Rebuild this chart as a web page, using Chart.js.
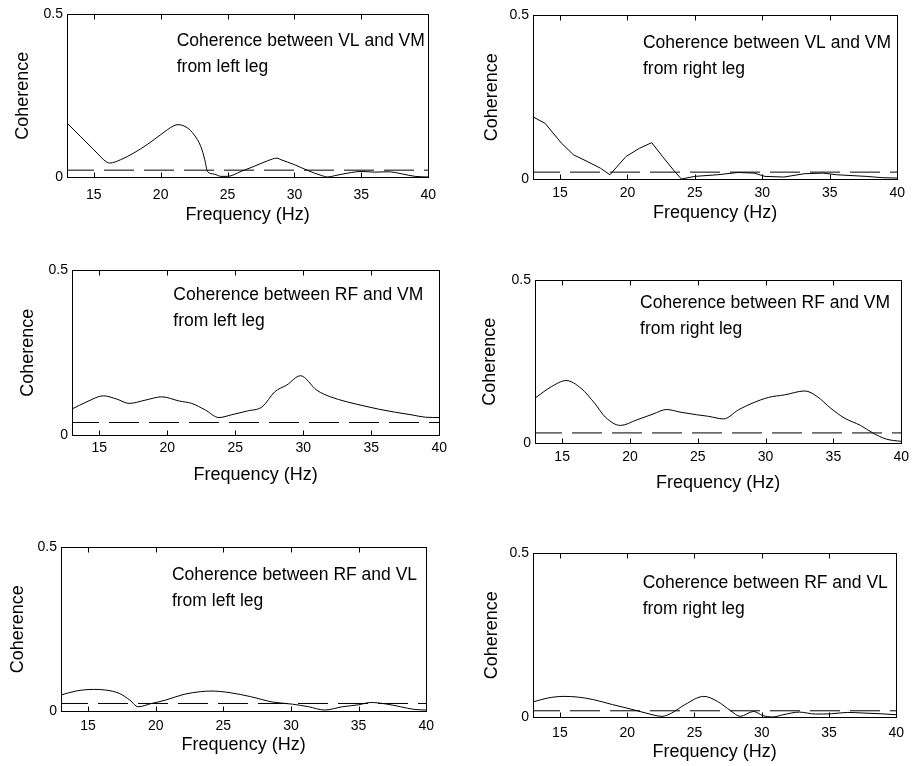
<!DOCTYPE html>
<html>
<head>
<meta charset="utf-8">
<title>Coherence between quadriceps muscles</title>
<script src="https://cdn.jsdelivr.net/npm/chart.js@4/dist/chart.umd.min.js"></script>
<style>
  html, body { margin: 0; padding: 0; background: #fff; overflow: hidden; }
  #stage { position: relative; width: 913px; height: 766px; overflow: hidden; }
  #stage canvas { position: absolute; }
</style>
</head>
<body>
<div id="stage"></div>
<script>
// ---- tick labels shared by every panel ----
const freqTicks = [15, 20, 25, 30, 35, 40];
const cohTicks = [0, 0.5];

// ---- VL vs VM, left leg ----
const vlvmLeftFreq = [13, 14, 15, 16, 16.2, 17, 18, 19, 20, 21, 21.3, 22, 22.5, 23, 23.3, 23.5, 24, 24.5, 25, 26, 27, 28, 28.7, 29, 30, 31, 32, 32.5, 33, 34, 35, 36, 37, 38, 39, 40];
const vlvmLeftCoh  = [0.166, 0.125, 0.084, 0.045, 0.043, 0.053, 0.074, 0.100, 0.130, 0.158, 0.161, 0.151, 0.130, 0.094, 0.053, 0.017, 0.009, 0.002, 0.002, 0.017, 0.033, 0.050, 0.058, 0.053, 0.038, 0.020, 0.005, 0.000, 0.004, 0.012, 0.017, 0.015, 0.016, 0.010, 0.002, 0.000];
const vlvmLeftSig  = 0.021;

// ---- VL vs VM, right leg ----
const vlvmRightFreq = [13, 13.9, 15.1, 16.0, 17, 18, 18.7, 19.9, 20.9, 21.8, 22.6, 23.5, 24, 25, 26.7, 28.2, 29.4, 30.2, 31.6, 33.1, 34.5, 35.5, 37.7, 38.9, 40];
const vlvmRightCoh  = [0.190, 0.170, 0.110, 0.074, 0.054, 0.033, 0.013, 0.069, 0.094, 0.111, 0.069, 0.023, 0.000, 0.008, 0.013, 0.020, 0.018, 0.008, 0.006, 0.016, 0.018, 0.013, 0.008, 0.004, 0.003];
const vlvmRightSig  = 0.021;

// ---- RF vs VM, left leg ----
const rfvmLeftFreq = [13, 14.1, 15.3, 16.3, 17.2, 18.4, 19.6, 20.9, 21.8, 22.8, 23.8, 24.7, 25.9, 27.0, 27.9, 28.8, 29.8, 31.0, 32.0, 33.2, 34.4, 35.6, 36.8, 38.0, 39.0, 40];
const rfvmLeftCoh  = [0.079, 0.101, 0.119, 0.109, 0.096, 0.106, 0.116, 0.103, 0.096, 0.076, 0.053, 0.061, 0.073, 0.086, 0.131, 0.152, 0.180, 0.136, 0.116, 0.101, 0.089, 0.078, 0.069, 0.061, 0.054, 0.053];
const rfvmLeftSig  = 0.038;

// ---- RF vs VM, right leg ----
const rfvmRightFreq = [13, 14.2, 15.3, 16.4, 17.4, 18.2, 19.3, 20.5, 21.7, 22.7, 23.7, 24.9, 25.8, 26.9, 28.0, 29.0, 30.2, 31.4, 32.9, 33.8, 34.8, 35.8, 37.0, 37.9, 38.9, 40];
const rfvmRightCoh  = [0.138, 0.173, 0.192, 0.168, 0.122, 0.079, 0.054, 0.071, 0.089, 0.103, 0.095, 0.087, 0.082, 0.074, 0.102, 0.122, 0.140, 0.148, 0.160, 0.143, 0.107, 0.077, 0.054, 0.031, 0.012, 0.005];
const rfvmRightSig  = 0.031;

// ---- RF vs VL, left leg ----
const rfvlLeftFreq = [13, 14.1, 15.4, 16.3, 17.3, 18.1, 18.7, 19.7, 20.7, 22.1, 23.3, 24.1, 25.5, 27.0, 28.7, 30.1, 31.3, 32.5, 33.8, 35.0, 35.9, 37.1, 38.1, 39.1, 40];
const rfvlLeftCoh  = [0.049, 0.061, 0.066, 0.064, 0.054, 0.033, 0.013, 0.023, 0.033, 0.051, 0.059, 0.061, 0.056, 0.044, 0.027, 0.021, 0.013, 0.003, 0.013, 0.019, 0.026, 0.021, 0.013, 0.005, 0.003];
const rfvlLeftSig  = 0.023;

// ---- RF vs VL, right leg ----
const rfvlRightFreq = [13, 14.1, 15.3, 16.3, 17.5, 18.9, 20.2, 21.4, 22.6, 23.3, 24.3, 25.7, 26.7, 27.7, 28.4, 29.4, 30.1, 30.8, 31.6, 32.8, 34.0, 35.2, 36.4, 37.6, 38.8, 40];
const rfvlRightCoh  = [0.046, 0.058, 0.063, 0.061, 0.053, 0.038, 0.025, 0.012, 0.002, 0.012, 0.038, 0.063, 0.048, 0.019, 0.002, 0.017, 0.004, 0.000, 0.007, 0.015, 0.009, 0.010, 0.014, 0.012, 0.010, 0.007];
const rfvlRightSig  = 0.019;

// ---- panel captions ----
const captions = [
  ['Coherence between VL and VM', 'from left leg'],
  ['Coherence between VL and VM', 'from right leg'],
  ['Coherence between RF and VM', 'from left leg'],
  ['Coherence between RF and VM', 'from right leg'],
  ['Coherence between RF and VL', 'from left leg'],
  ['Coherence between RF and VL', 'from right leg']
];

const series = [
  [vlvmLeftFreq, vlvmLeftCoh, vlvmLeftSig],
  [vlvmRightFreq, vlvmRightCoh, vlvmRightSig],
  [rfvmLeftFreq, rfvmLeftCoh, rfvmLeftSig],
  [rfvmRightFreq, rfvmRightCoh, rfvmRightSig],
  [rfvlLeftFreq, rfvlLeftCoh, rfvlLeftSig],
  [rfvlRightFreq, rfvlRightCoh, rfvlRightSig]
];

// Page placement of each plot box, label gaps, caption anchor (axis units) and curve smoothing.
const layout = [
  { left: 67,  top: 14,  w: 371, h: 163, xTick: 18, xTitle: 38, yTitle: 44, noteX: 21.2,  noteY: 0.417, smooth: true },
  { left: 533, top: 15,  w: 370, h: 164, xTick: 14, xTitle: 34, yTitle: 41, noteX: 21.15, noteY: 0.415, smooth: false },
  { left: 72,  top: 270, w: 372, h: 165, xTick: 13, xTitle: 40, yTitle: 44, noteX: 20.45, noteY: 0.424, smooth: true },
  { left: 535, top: 280, w: 372, h: 163, xTick: 14, xTitle: 40, yTitle: 45, noteX: 20.75, noteY: 0.430, smooth: true },
  { left: 61,  top: 547, w: 372, h: 164, xTick: 15, xTitle: 34, yTitle: 43, noteX: 21.2,  noteY: 0.415, smooth: true },
  { left: 533, top: 553, w: 371, h: 164, xTick: 16, xTitle: 35, yTitle: 41, noteX: 21.15, noteY: 0.410, smooth: true }
];

const FONT = "'Liberation Sans', Arial, Helvetica, sans-serif";
const TICK_FONT = "'Liberation Sans Narrow', 'Liberation Sans', Arial, sans-serif";
const Y_AXIS_W = 60;   // width reserved left of the plot box
const X_AXIS_H = 54;   // height reserved below the plot box
const PAD_TOP = 12;
const PAD_RIGHT = 8;
const TITLE_SIZE = 18;
const NOTE_SIZE = 17.5;
const TICK_SIZE = 14;

Chart.defaults.font.family = FONT;
Chart.defaults.color = '#000';
Chart.defaults.animation = false;

// MATLAB-style box with inward tick marks plus the two-line caption.
const boxPlugin = {
  id: 'boxFrame',
  afterDatasetsDraw(chart, args, opts) {
    const { ctx, chartArea: a, scales: { x, y } } = chart;
    ctx.save();
    ctx.strokeStyle = '#000';
    ctx.lineWidth = 1;
    const L = Math.round(a.left) + 0.5, T = Math.round(a.top) + 0.5;
    const R = Math.round(a.right) + 0.5, B = Math.round(a.bottom) + 0.5;
    ctx.strokeRect(L, T, R - L, B - T);
    ctx.beginPath();
    x.ticks.forEach(t => {
      const px = Math.round(x.getPixelForValue(t.value)) + 0.5;
      ctx.moveTo(px, T); ctx.lineTo(px, T + 5);
      ctx.moveTo(px, B); ctx.lineTo(px, B - 5);
    });
    ctx.stroke();
    ctx.fillStyle = '#000';
    ctx.font = NOTE_SIZE + 'px ' + FONT;
    ctx.textAlign = 'left';
    ctx.textBaseline = 'middle';
    const nx = x.getPixelForValue(opts.noteX);
    const ny = y.getPixelForValue(opts.noteY);
    (opts.lines || []).forEach((line, i) => ctx.fillText(line, nx, ny + i * 26));
    ctx.restore();
  }
};

const stage = document.getElementById('stage');

series.forEach(([freq, coh, sig], i) => {
  const L = layout[i];
  const canvas = document.createElement('canvas');
  const cw = Y_AXIS_W + L.w + PAD_RIGHT;
  const ch = PAD_TOP + L.h + X_AXIS_H;
  canvas.width = cw;
  canvas.height = ch;
  canvas.style.width = cw + 'px';
  canvas.style.height = ch + 'px';
  canvas.style.left = (L.left - Y_AXIS_W) + 'px';
  canvas.style.top = (L.top - PAD_TOP) + 'px';
  stage.appendChild(canvas);

  const lineHalf = TITLE_SIZE * 1.2 / 2;

  new Chart(canvas, {
    type: 'line',
    data: {
      datasets: [
        {
          label: 'coherence',
          data: freq.map((f, k) => ({ x: f, y: coh[k] })),
          borderColor: '#000',
          borderWidth: 1,
          pointRadius: 0,
          fill: false,
          cubicInterpolationMode: L.smooth ? 'monotone' : 'default',
          tension: 0
        },
        {
          label: 'significance level',
          data: [{ x: 13, y: sig }, { x: 40, y: sig }],
          borderColor: '#000',
          borderWidth: 1,
          borderDash: [30, 10],
          borderDashOffset: 3,
          pointRadius: 0,
          fill: false
        }
      ]
    },
    options: {
      responsive: false,
      devicePixelRatio: 1,
      layout: { padding: { top: PAD_TOP, right: PAD_RIGHT, left: 0, bottom: 0 } },
      plugins: {
        legend: { display: false },
        tooltip: { enabled: false },
        boxFrame: { noteX: L.noteX, noteY: L.noteY, lines: captions[i] }
      },
      scales: {
        x: {
          type: 'linear',
          min: 13,
          max: 40,
          afterBuildTicks: s => { s.ticks = freqTicks.map(v => ({ value: v })); },
          afterFit: s => { s.height = X_AXIS_H; },
          grid: { display: false, drawTicks: false },
          border: { display: false },
          ticks: {
            font: { size: TICK_SIZE, family: TICK_FONT },
            padding: L.xTick - 8,
            maxRotation: 0,
            autoSkip: false,
            callback: v => String(v)
          },
          title: {
            display: true,
            text: 'Frequency (Hz)',
            font: { size: TITLE_SIZE },
            padding: { top: 0, bottom: Math.max(0, X_AXIS_H - L.xTitle - lineHalf) }
          }
        },
        y: {
          type: 'linear',
          min: 0,
          max: 0.5,
          afterBuildTicks: s => { s.ticks = cohTicks.map(v => ({ value: v })); },
          afterFit: s => { s.width = Y_AXIS_W; },
          grid: { display: false, drawTicks: false },
          border: { display: false },
          ticks: {
            font: { size: TICK_SIZE, family: TICK_FONT },
            padding: 4,
            autoSkip: false,
            callback: v => String(v)
          },
          title: {
            display: true,
            text: 'Coherence',
            font: { size: TITLE_SIZE },
            padding: { top: Math.max(0, Y_AXIS_W - L.yTitle - lineHalf), bottom: 0 }
          }
        }
      }
    },
    plugins: [boxPlugin]
  });
});
</script>
</body>
</html>
